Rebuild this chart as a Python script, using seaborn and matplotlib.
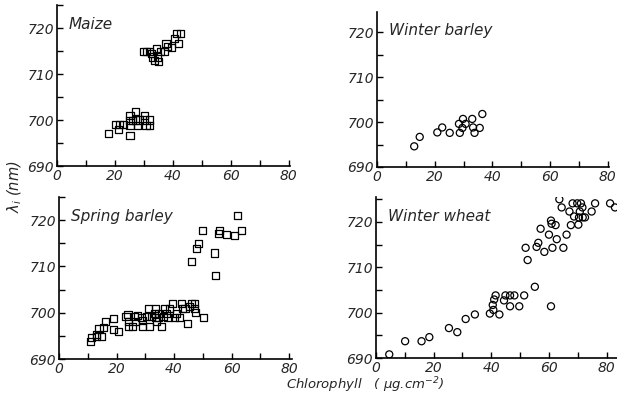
import numpy as np
import pandas as pd
import matplotlib
matplotlib.use("Agg")
import matplotlib.pyplot as plt
import seaborn as sns
from matplotlib.ticker import MultipleLocator

sns.set_style("ticks")
plt.rcParams['font.family'] = ['DejaVu Sans']
plt.rcParams['font.style'] = 'italic'
plt.rcParams['mathtext.default'] = 'it'

# --- data ---
maize_x = [17.7, 20.2, 21.1, 21.7, 22.9, 25.2, 25.2, 25.2, 25.2, 27.1, 27.1, 27.7, 28.6,
           30.1, 30.1, 30.7, 31.8, 31.8, 26.0,
           29.8, 30.9, 31.9, 32.7, 33.0, 33.5, 34.2, 34.6, 34.9, 35.6, 37.1, 37.6, 38.2,
           39.6, 40.5, 41.3, 42.7, 41.9]
maize_y = [697.0, 699.0, 698.0, 699.0, 699.0, 696.7, 700.9, 699.8, 698.8, 701.9, 700.0, 698.8, 700.0,
           700.9, 700.0, 698.8, 700.0, 698.8, 699.8,
           714.8, 714.8, 714.8, 714.4, 713.7, 713.0, 715.5, 713.7, 712.8, 714.8, 714.8, 716.7, 715.9,
           715.7, 717.8, 718.8, 718.8, 716.7]

wbarley_x = [12.9, 14.8, 20.9, 22.6, 25.2, 28.4, 28.7, 29.6, 29.8, 30.7, 33.0, 33.3, 33.8, 35.6, 36.5]
wbarley_y = [694.6, 696.7, 697.7, 698.8, 697.6, 699.6, 697.6, 698.7, 700.7, 699.6, 700.7, 698.8,
             697.6, 698.7, 701.8]

sbarley_x = [11.1, 11.3, 13.1, 13.1, 13.9, 14.8, 15.6, 16.2, 19.1, 19.1, 20.8, 23.3, 24.0, 24.2,
             24.2, 25.6, 26.3, 26.7, 27.4, 28.8, 29.0, 29.1, 30.5, 31.1, 31.6, 32.2, 33.1, 33.6,
             33.7, 33.9, 34.5, 34.7, 35.6, 36.2, 36.8, 37.3, 37.9, 38.5, 39.6, 40.0, 40.8, 41.9,
             42.5, 43.0, 43.8, 44.7, 45.3, 46.1, 47.0, 47.0, 47.4, 50.2,
             46.2, 47.9, 48.4, 49.9, 54.2, 54.5, 55.4, 55.9, 58.1, 61.1, 62.2, 63.6]
sbarley_y = [693.7, 694.6, 695.3, 694.8, 696.6, 694.8, 696.8, 698.1, 698.8, 696.3, 696.0, 699.1,
             699.7, 698.1, 697.1, 697.1, 699.1, 698.2, 699.3, 698.9, 697.1, 698.4, 699.1, 700.9,
             697.0, 699.1, 699.9, 700.9, 698.9, 698.1, 699.9, 698.9, 697.0, 699.1, 700.9, 699.9,
             698.9, 700.9, 702.0, 698.9, 699.9, 698.9, 702.0, 700.9, 700.9, 697.7, 701.3, 702.0,
             702.0, 700.9, 700.0, 698.9,
             711.0, 713.9, 715.0, 717.8, 712.9, 708.0, 717.1, 717.8, 716.9, 716.6, 721.1, 717.8]

wwheat_x = [4.6, 10.1, 15.8, 18.5, 25.3, 28.2, 31.1, 34.3, 39.5, 40.7, 40.5, 41.0, 41.5, 42.8,
            44.4, 44.9, 46.5, 46.5, 48.0, 49.7, 51.4, 51.9, 52.6, 55.1, 55.7, 56.3, 57.1, 58.4,
            60.0, 60.7, 60.9, 61.2, 60.7, 62.3, 62.7, 63.6, 64.4, 65.0, 66.1, 67.1, 67.6, 68.2,
            68.7, 69.8, 70.2, 70.4, 70.7, 71.1, 71.6, 71.7, 72.5, 74.8, 76.0, 81.2, 82.9]
wwheat_y = [690.8, 693.7, 693.7, 694.6, 696.6, 695.7, 698.6, 699.6, 699.8, 700.6, 701.7, 702.9,
            703.8, 699.6, 702.7, 703.8, 701.4, 703.8, 703.8, 701.4, 703.8, 714.3, 711.6, 705.7,
            714.5, 715.4, 718.5, 713.4, 717.2, 720.3, 719.6, 714.3, 701.4, 719.3, 716.2, 725.0,
            723.2, 714.3, 717.2, 722.3, 719.3, 724.1, 721.2, 724.1, 719.4, 721.0, 722.3, 724.1,
            723.2, 721.0, 721.0, 722.3, 724.1, 724.1, 723.2]

panel_names = ["Maize", "Winter barley", "Spring barley", "Winter wheat"]
x_ticks = [0, 20, 40, 60, 80]
y_ticks = [690, 700, 710, 720]

W, H = 617, 398
fig = plt.figure(figsize=(W / 100, H / 100), dpi=100)

def ax_px(x0, x1, ytop, ybot):
    return fig.add_axes([x0 / W, 1 - ybot / H, (x1 - x0) / W, (ybot - ytop) / H])

panels = [
    (ax_px(57, 290, 5, 166), maize_x, maize_y, 's', (0, 80.4), (690, 725)),
    (ax_px(377, 609, 12, 167), wbarley_x, wbarley_y, 'o', (0, 80.4), (690, 724.5)),
    (ax_px(59, 292, 197, 359), sbarley_x, sbarley_y, 's', (0, 81), (690, 725)),
    (ax_px(376, 617, 197, 358), wwheat_x, wwheat_y, 'o', (0, 83.6), (690, 725.5)),
]

for (ax, xs, ys, mk, xl, yl), name in zip(panels, panel_names):
    df = pd.DataFrame({"x": xs, "y": ys})
    sns.scatterplot(data=df, x="x", y="y", marker=mk, s=26, facecolor="none",
                    edgecolor="black", linewidth=0.9, ax=ax, clip_on=False if mk == 's' else True)
    ax.set_xlim(*xl)
    ax.set_ylim(*yl)
    ax.set_xticks(x_ticks)
    ax.set_yticks(y_ticks)
    ax.xaxis.set_minor_locator(MultipleLocator(10))
    ax.yaxis.set_minor_locator(MultipleLocator(5))
    ax.tick_params(which='both', direction='in', length=4, width=1, color='black',
                   labelsize=10, pad=2)
    for lab in ax.get_xticklabels() + ax.get_yticklabels():
        lab.set_fontstyle('italic')
    ax.set_xlabel("")
    ax.set_ylabel("")
    sns.despine(ax=ax)
    for s in ("left", "bottom"):
        ax.spines[s].set_linewidth(1.2)
        ax.spines[s].set_color("black")
    ax.set_facecolor("none")
    ax.text(0.05, 0.88, name, transform=ax.transAxes, fontsize=11, fontstyle='italic',
            ha='left', va='center')

fig.text(15 / W, 1 - 187 / H, r"$\lambda_i$ (nm)", rotation=90, fontsize=10.5,
         fontstyle='italic', ha='center', va='center')
fig.text(365 / W, 1 - 385 / H, r"Chlorophyll   ( μg.cm$^{-2}$)", fontsize=9.5,
         fontstyle='italic', ha='center', va='center')

fig.savefig("out.png", dpi=100)
